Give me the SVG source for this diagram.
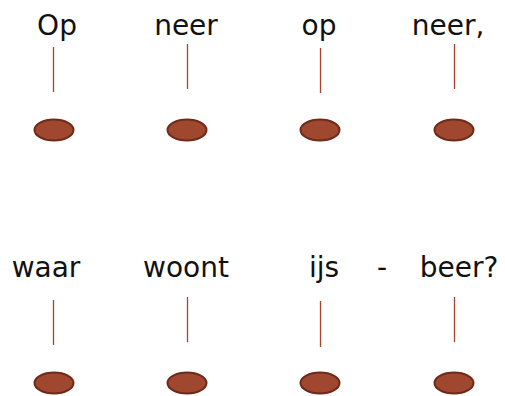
<svg xmlns="http://www.w3.org/2000/svg" width="505" height="396" viewBox="0 0 505 396">
<style>
.t{font-family:"DejaVu Sans","Liberation Sans",sans-serif;font-size:28px;fill:#111;text-anchor:middle}
.l{stroke:#a8432c;stroke-width:1.3}
.e{fill:#a0472f;stroke:#6e2a1a;stroke-width:2}
</style>
<rect width="505" height="396" fill="#fff"/>
<g id="words">
<text class="t" x="57" y="35">Op</text>
<text class="t" x="186" y="35">neer</text>
<text class="t" x="319" y="35">op</text>
<text class="t" x="448" y="35">neer,</text>
<text class="t" x="46" y="277">waar</text>
<text class="t" x="186" y="277">woont</text>
<text class="t" x="324" y="277">ijs</text>
<text class="t" x="382" y="277">-</text>
<text class="t" x="459" y="277">beer?</text>
</g>
<g id="connectors">
<line class="l" x1="53.5" y1="47" x2="53.5" y2="92"/>
<line class="l" x1="187.5" y1="44" x2="187.5" y2="89"/>
<line class="l" x1="320.5" y1="48" x2="320.5" y2="93"/>
<line class="l" x1="454.5" y1="44" x2="454.5" y2="89"/>
<line class="l" x1="53.5" y1="300" x2="53.5" y2="345"/>
<line class="l" x1="187.5" y1="297" x2="187.5" y2="342"/>
<line class="l" x1="320.5" y1="301" x2="320.5" y2="347"/>
<line class="l" x1="454.5" y1="297" x2="454.5" y2="342"/>
</g>
<g id="n1"><ellipse class="e" cx="54" cy="130" rx="19.5" ry="10.5"/></g>
<g id="n2"><ellipse class="e" cx="187" cy="130" rx="19.5" ry="10.5"/></g>
<g id="n3"><ellipse class="e" cx="320" cy="130" rx="19.5" ry="10.5"/></g>
<g id="n4"><ellipse class="e" cx="454" cy="130" rx="19.5" ry="10.5"/></g>
<g id="n5"><ellipse class="e" cx="54" cy="383" rx="19.5" ry="10.5"/></g>
<g id="n6"><ellipse class="e" cx="187" cy="383" rx="19.5" ry="10.5"/></g>
<g id="n7"><ellipse class="e" cx="320" cy="383" rx="19.5" ry="10.5"/></g>
<g id="n8"><ellipse class="e" cx="454" cy="383" rx="19.5" ry="10.5"/></g>
</svg>
